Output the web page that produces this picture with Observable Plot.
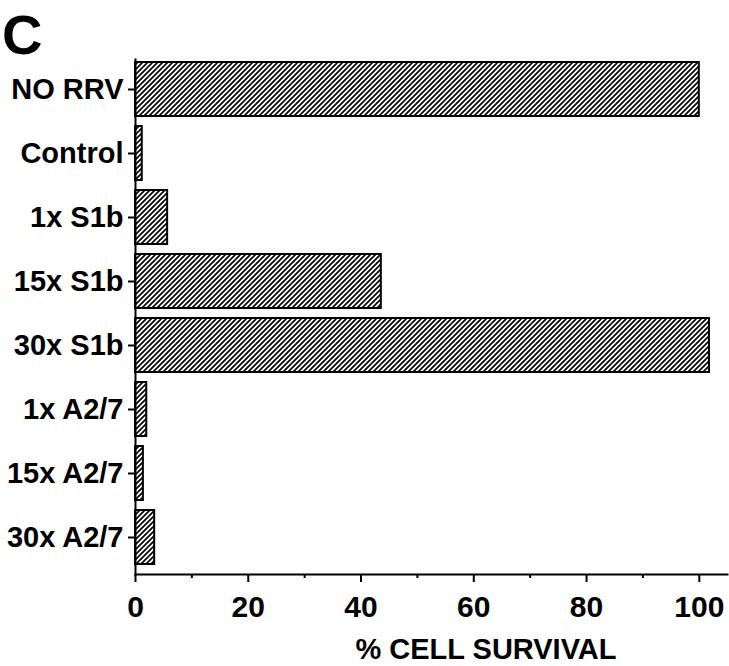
<!DOCTYPE html>
<html>
<head>
<meta charset="utf-8">
<script src="https://cdn.jsdelivr.net/npm/d3@7"></script>
<script src="https://cdn.jsdelivr.net/npm/@observablehq/plot@0.6"></script>
<style>
  html, body { margin: 0; padding: 0; background: #fff; }
  svg { display: block; }
</style>
</head>
<body>
<div id="chart"></div>
<script>
const categories = ["NO RRV", "Control", "1x S1b", "15x S1b", "30x S1b", "1x A2/7", "15x A2/7", "30x A2/7"];
const survival = [100, 1.2, 5.7, 43.6, 101.8, 2.0, 1.4, 3.4];
const majorTicks = [0, 20, 40, 60, 80, 100];
const minorTicks = [10, 30, 50, 70, 90];
const panelLetter = "C";
const xTitle = "% CELL SURVIVAL";

const data = categories.map((c, i) => ({category: c, value: survival[i]}));
const font = "'Liberation Sans', Arial, Helvetica, sans-serif";

const chart = Plot.plot({
  width: 729,
  height: 666,
  marginLeft: 135,
  marginRight: 2,
  marginTop: 59,
  marginBottom: 92,
  style: {fontFamily: font, background: "#fff", color: "#000"},
  x: {domain: [0, 105]},
  y: {domain: categories, range: [49, 577], padding: 0.15},
  marks: [
    Plot.barX(data, {x: "value", y: "category", fill: "url(#hatch)", stroke: "#000", strokeWidth: 2}),
    Plot.axisX({ticks: majorTicks, tickSize: 8, tickPadding: 13, strokeWidth: 2, fontSize: 30, fontWeight: "bold", label: null, tickFormat: d => String(d)}),
    Plot.axisX({ticks: minorTicks, tickSize: 4, strokeWidth: 2, tickFormat: () => "", label: null}),
    Plot.axisY({tickSize: 7, tickPadding: 5, strokeWidth: 2, fontSize: 29, fontWeight: "bold", label: null}),
    Plot.frame({anchor: "bottom", strokeWidth: 2}),
    Plot.frame({anchor: "left", strokeWidth: 2})
  ]
});

const svg = d3.select(chart);
const defs = svg.insert("defs", ":first-child");
const pat = defs.append("pattern")
  .attr("id", "hatch")
  .attr("patternUnits", "userSpaceOnUse")
  .attr("width", 5).attr("height", 5);
pat.append("rect").attr("width", 5).attr("height", 5).attr("fill", "#fff");
pat.append("path")
  .attr("d", "M-1,6 L6,-1 M-2,2 L2,-2 M3,7 L7,3")
  .attr("stroke", "#000").attr("stroke-width", 1.7);

svg.append("text")
  .attr("x", 2).attr("y", 54)
  .attr("text-anchor", "start")
  .attr("font-family", font).attr("font-weight", "bold").attr("font-size", 56)
  .attr("fill", "#000")
  .text(panelLetter);

svg.append("text")
  .attr("x", 486).attr("y", 659)
  .attr("text-anchor", "middle")
  .attr("font-family", font).attr("font-weight", "bold").attr("font-size", 29)
  .attr("fill", "#000")
  .text(xTitle);

document.getElementById("chart").appendChild(chart);
</script>
</body>
</html>
